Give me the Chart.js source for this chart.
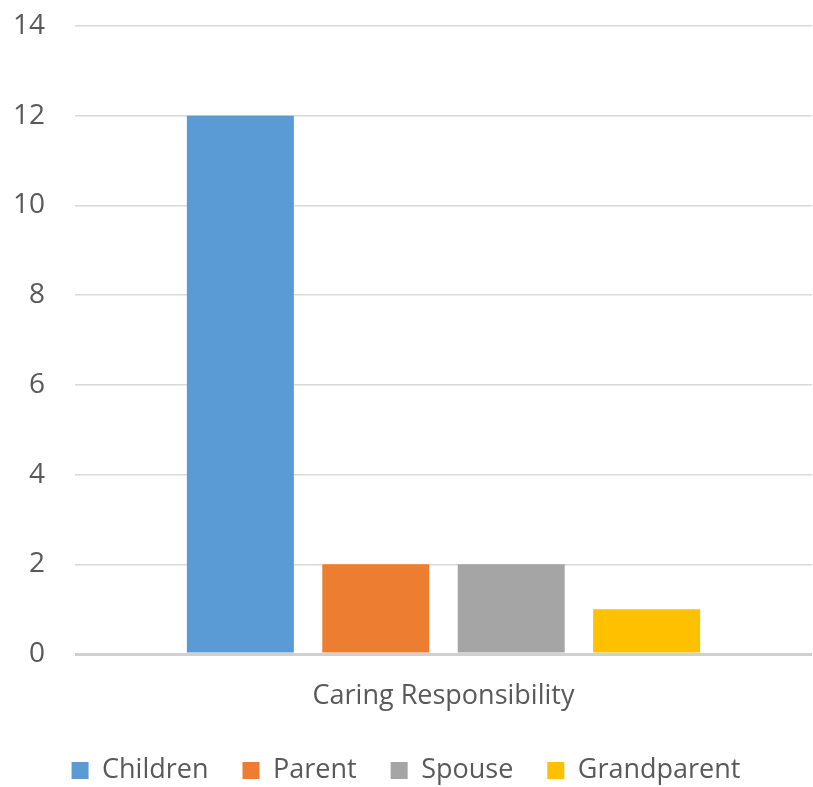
<!DOCTYPE html>
<html>
<head>
<meta charset="utf-8">
<script src="https://cdn.jsdelivr.net/npm/chart.js@4/dist/chart.umd.min.js"></script>
<style>
  html, body { margin: 0; padding: 0; background: #fff; }
  #wrap { width: 813px; height: 787px; }
</style>
</head>
<body>
<div id="wrap"><canvas id="graph1" width="813" height="787"></canvas></div>
<script>
// data
var categories = ["Caring Responsibility"];
var seriesNames = ["Children", "Parent", "Spouse", "Grandparent"];
var children = [12];
var parent = [2];
var spouse = [2];
var grandparent = [1];
var yTicks = [0, 2, 4, 6, 8, 10, 12, 14];

var colours = ['#5B9BD5', '#ED7D31', '#A5A5A5', '#FFC000'];
var values = [children, parent, spouse, grandparent];

Chart.defaults.font.family = "'Open Sans', 'Liberation Sans', sans-serif";
Chart.defaults.color = '#595959';

var ctx = document.getElementById('graph1').getContext('2d');

var data = {
    labels: categories,
    datasets: seriesNames.map(function(name, i) {
        return {
            label: name,
            backgroundColor: colours[i],
            data: values[i],
            categoryPercentage: 0.735,
            barPercentage: 0.79
        };
    })
};

var options = {
    responsive: false,
    animation: false,
    layout: { padding: { top: 26, right: 1, left: 0, bottom: -7 } },
    plugins: {
        tooltip: { enabled: false },
        legend: {
            position: 'bottom',
            labels: {
                boxWidth: 17,
                boxHeight: 17,
                padding: 34,
                font: { size: 27 },
                color: '#595959'
            }
        }
    },
    scales: {
        x: {
            grid: { display: false },
            border: { display: false },
            afterFit: function(axis) { axis.height = 69; },
            ticks: { font: { size: 27 }, padding: 18, color: '#595959' }
        },
        y: {
            min: 0,
            max: 14,
            afterBuildTicks: function(axis) {
                axis.ticks = yTicks.map(function(v) { return { value: v }; });
            },
            afterFit: function(axis) {
                axis.width = 75;
                axis.paddingTop = 0;
                axis.paddingBottom = 0;
            },
            border: { display: false },
            grid: {
                drawTicks: false,
                color: function(c) { return c.tick && c.tick.value === 0 ? '#d0d0d0' : '#d9d9d9'; },
                lineWidth: function(c) { return c.tick && c.tick.value === 0 ? 3 : 1.5; }
            },
            ticks: { font: { size: 28 }, padding: 30, color: '#595959' }
        }
    }
};

var graph1 = new Chart(ctx, { type: 'bar', data: data, options: options });
</script>
</body>
</html>
